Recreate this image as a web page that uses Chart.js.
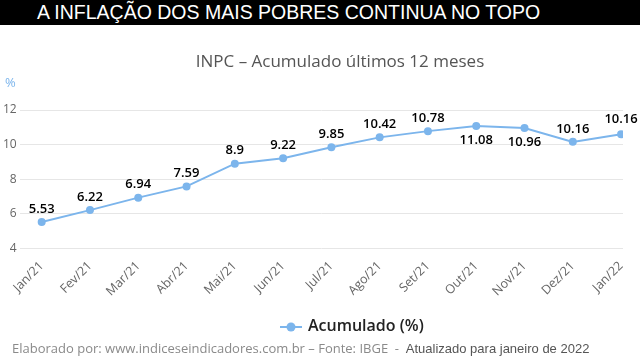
<!DOCTYPE html>
<html>
<head>
<meta charset="utf-8">
<script src="https://cdn.jsdelivr.net/npm/chart.js@4.4.1/dist/chart.umd.min.js"></script>
<style>
  html, body { margin: 0; padding: 0; background: #fff; }
  #wrap { position: relative; width: 640px; height: 360px; overflow: hidden; }
  #bar { position: absolute; left: 0; top: 0; width: 640px; height: 25px; background: #000; }
  #bar span { position: absolute; left: 37px; top: 1px; color: #fff; font: 19.5px "Liberation Sans", Arial, sans-serif; white-space: nowrap; }
  #sub { position: absolute; left: 0; width: 680px; top: 49px; text-align: center; color: #555; font: 17px "Open Sans", sans-serif; white-space: nowrap; }
  #pct { position: absolute; left: 5px; top: 73px; color: #7cb5ec; font: 13px "Open Sans", sans-serif; }
  #legend { position: absolute; left: 280px; top: 314px; font: 600 16px "Open Sans", sans-serif; color: #222; white-space: nowrap; }
  #legend canvas { position: static; vertical-align: middle; margin-right: 6px; }
  #foot { position: absolute; left: 12px; top: 339px; font: 13px "Open Sans", sans-serif; color: #8a8a8a; white-space: nowrap; }
  #foot b { font-weight: normal; color: #555; font-family: "Liberation Sans", Arial, sans-serif; }
  #Chart1 { position: absolute; left: 0; top: 0; }
</style>
</head>
<body>
<div id="wrap">
  <canvas id="Chart1" width="640" height="360"></canvas>
  <div id="bar"><span>A INFLAÇÃO DOS MAIS POBRES CONTINUA NO TOPO</span></div>
  <div id="sub">INPC – Acumulado últimos 12 meses</div>
  <div id="pct">%</div>
  <div id="legend"></div>
  <div id="foot">Elaborado por: www.indiceseindicadores.com.br – Fonte: IBGE &nbsp;-&nbsp; <b>Atualizado para janeiro de 2022</b></div>
</div>
<script>
const months = ["Jan/21", "Fev/21", "Mar/21", "Abr/21", "Mai/21", "Jun/21", "Jul/21", "Ago/21", "Set/21", "Out/21", "Nov/21", "Dez/21", "Jan/22"];
const accValues = [5.53, 6.22, 6.94, 7.59, 8.9, 9.22, 9.85, 10.42, 10.78, 11.08, 10.96, 10.16, 10.6];
// labels as printed on the original (last one repeats 10.16)
const valueLabels = ["5.53", "6.22", "6.94", "7.59", "8.9", "9.22", "9.85", "10.42", "10.78", "11.08", "10.96", "10.16", "10.16"];
const yTicks = [4, 6, 8, 10, 12];

const blue = "#7cb5ec";

const pointLabels = {
  id: "pointLabels",
  afterDatasetsDraw(chart, args, opts) {
    const ctx = chart.ctx;
    const meta = chart.getDatasetMeta(0);
    ctx.save();
    ctx.font = "600 13px 'Open Sans', sans-serif";
    ctx.fillStyle = "#000";
    ctx.textAlign = "center";
    ctx.textBaseline = "middle";
    meta.data.forEach((pt, i) => {
      let dy = -13;
      if (opts.below.includes(i)) dy = 14;
      if (i === valueLabels.length - 1) dy = -15;
      ctx.fillText(valueLabels[i], pt.x, pt.y + dy);
    });
    ctx.restore();
  }
};

// html legend: line + dot, then the series name
const htmlLegend = {
  id: "htmlLegend",
  afterUpdate(chart) {
    const box = document.getElementById("legend");
    box.innerHTML = "";
    chart.data.datasets.forEach(ds => {
      const icon = document.createElement("canvas");
      icon.width = 22; icon.height = 10;
      const ic = icon.getContext("2d");
      ic.strokeStyle = ds.borderColor; ic.lineWidth = 2;
      ic.beginPath(); ic.moveTo(0, 5); ic.lineTo(22, 5); ic.stroke();
      ic.fillStyle = ds.backgroundColor;
      ic.beginPath(); ic.arc(11, 5, 4.5, 0, Math.PI * 2); ic.fill();
      box.appendChild(icon);
      box.appendChild(document.createTextNode(ds.label));
    });
  }
};

const ctx = document.getElementById("Chart1");

new Chart(ctx, {
  type: "line",
  data: {
    datasets: [{
      label: "Acumulado (%)",
      data: accValues.map((v, i) => ({x: i, y: v})),
      borderColor: blue,
      backgroundColor: blue,
      borderWidth: 2,
      pointRadius: 4,
      pointBorderWidth: 0,
      tension: 0
    }]
  },
  options: {
    responsive: false,
    animation: false,
    layout: {padding: {top: 110, left: 0, right: 17, bottom: 59}},
    scales: {
      x: {
        type: "linear",
        min: -0.455,
        max: 12.04,
        afterBuildTicks: s => { s.ticks = months.map((m, i) => ({value: i})); },
        grid: {display: false},
        border: {display: false},
        ticks: {
          autoSkip: false,
          maxRotation: 45,
          minRotation: 45,
          color: "#666",
          font: {family: "Open Sans", size: 12.5},
          padding: 2,
          callback: v => months[v]
        }
      },
      y: {
        min: 4,
        max: 12,
        afterBuildTicks: s => { s.ticks = yTicks.map(v => ({value: v})); },
        grid: {color: "#e6e6e6", drawTicks: false},
        border: {display: false},
        ticks: {color: "#666", font: {family: "Open Sans", size: 12}, padding: 3}
      }
    },
    plugins: {
      legend: {display: false},
      title: {display: false},
      tooltip: {enabled: false},
      pointLabels: {below: [9, 10]}
    }
  },
  plugins: [pointLabels, htmlLegend]
});
</script>
</body>
</html>
